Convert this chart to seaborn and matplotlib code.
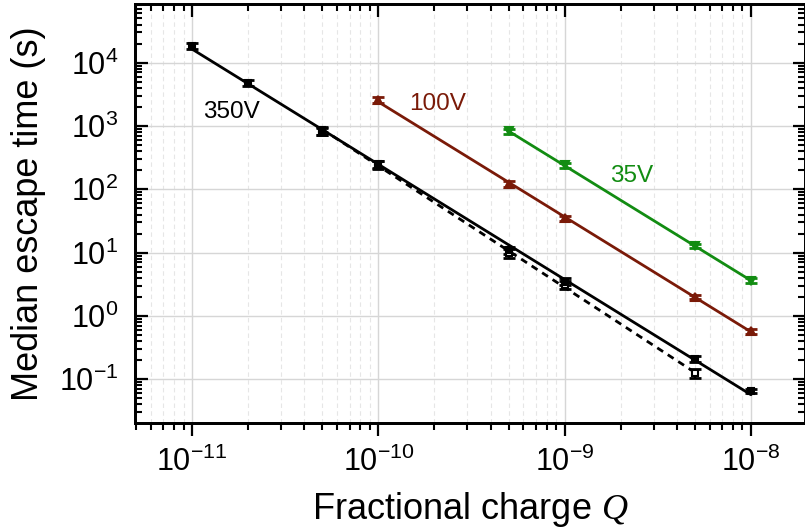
import numpy as np
import pandas as pd
import matplotlib
matplotlib.use("Agg")
import matplotlib.pyplot as plt
import seaborn as sns
from matplotlib.ticker import LogLocator, NullFormatter

# ---------------- data ----------------
q_350 = [1e-11, 2e-11, 5e-11, 1e-10, 5e-10, 1e-9, 5e-9, 1e-8]
t_350 = [1.85e4, 4.8e3, 830, 245, 11.0, 3.5, 0.21, 0.065]
rel_err_350 = [0.12, 0.10, 0.14, 0.13, 0.12, 0.13, 0.10, 0.08]

q_350b = [5e-11, 1e-10, 5e-10, 1e-9, 5e-9]
t_350b = [850, 250, 9.8, 3.1, 0.125]
rel_err_350b = [0.14, 0.13, 0.15, 0.15, 0.15]

q_100 = [1e-10, 5e-10, 1e-9, 5e-9, 1e-8]
t_100 = [2550, 122, 35, 2.0, 0.58]
rel_err_100 = [0.11, 0.10, 0.10, 0.08, 0.09]

q_35 = [5e-10, 1e-9, 5e-9, 1e-8]
t_35 = [820, 240, 12.8, 3.6]
rel_err_35 = [0.09, 0.10, 0.08, 0.09]

labels = ["350V", "100V", "35V"]
xticks = [1e-11, 1e-10, 1e-9, 1e-8]
yticks = [1e-1, 1e0, 1e1, 1e2, 1e3, 1e4]

C_BLACK = "#000000"
C_RED = "#7a1a08"
C_GREEN = "#128c12"

# ---------------- style ----------------
sns.set_theme(style="ticks")
plt.rcParams["font.family"] = ["Liberation Sans", "DejaVu Sans"]
plt.rcParams["mathtext.fontset"] = "custom"
plt.rcParams["mathtext.rm"] = "Liberation Sans"
plt.rcParams["mathtext.it"] = "Liberation Serif:italic"
for k in ("text.color", "axes.labelcolor", "xtick.color", "ytick.color", "axes.edgecolor"):
    plt.rcParams[k] = "black"

fig = plt.figure(figsize=(8.05, 5.29), dpi=100)
W, H = 805, 529
ax = fig.add_axes([135 / W, 1 - 423 / H, (805 - 135) / W, (423 - 3.5) / H])
ax.set_xscale("log")
ax.set_yscale("log")
ax.set_xlim(4.94e-12, 1.95e-8)
ax.set_ylim(0.0204, 8.6e4)


def fit_line(q, t):
    c = np.polyfit(np.log10(q), np.log10(t), 1)
    qq = np.array([min(q), max(q)])
    return pd.DataFrame({"Q": qq, "t": 10 ** np.polyval(c, np.log10(qq))})


# fit lines
sns.lineplot(data=fit_line(q_350, t_350), x="Q", y="t", ax=ax, color=C_BLACK, lw=2, zorder=3)
sns.lineplot(data=fit_line(q_350b, t_350b), x="Q", y="t", ax=ax, color=C_BLACK, lw=2,
             linestyle=(0, (2.5, 2)), zorder=3)
sns.lineplot(data=fit_line(q_100, t_100), x="Q", y="t", ax=ax, color=C_RED, lw=2, zorder=3)
sns.lineplot(data=fit_line(q_35, t_35), x="Q", y="t", ax=ax, color=C_GREEN, lw=2, zorder=3)


def errpts(q, t, rel, color, marker, ms, mfc):
    t = np.array(t)
    rel = np.array(rel)
    ax.errorbar(q, t, yerr=t * rel, fmt="none", ecolor=color, elinewidth=1.6,
                capsize=4, capthick=2, zorder=4)
    ax.plot(q, t, ls="none", marker=marker, ms=ms, mfc=mfc, mec=color, mew=1.5,
            color=color, zorder=5)


errpts(q_350b, t_350b, rel_err_350b, C_BLACK, "s", 4, "white")
errpts(q_350, t_350, rel_err_350, C_BLACK, "s", 4, C_BLACK)
errpts(q_100, t_100, rel_err_100, C_RED, "^", 5.5, C_RED)
errpts(q_35, t_35, rel_err_35, C_GREEN, "v", 5.5, C_GREEN)

# labels
ax.text(1.62e-11, 1660, labels[0], color=C_BLACK, fontsize=17.5, ha="center", va="center")
ax.text(2.07e-10, 2250, labels[1], color=C_RED, fontsize=17.5, ha="center", va="center")
ax.text(2.30e-9, 162, labels[2], color=C_GREEN, fontsize=17.5, ha="center", va="center")

# grid
ax.grid(which="major", color="#d6d6d6", lw=1.0, zorder=0)
ax.xaxis.grid(which="minor", color="#e6e6e6", ls=(0, (4, 3)), lw=0.8, zorder=0)
ax.yaxis.grid(which="minor", visible=False)
ax.set_axisbelow(True)

# ticks
ax.set_xticks(xticks)
ax.set_yticks(yticks)
ax.xaxis.set_minor_locator(LogLocator(base=10, subs=np.arange(2, 10), numticks=100))
ax.yaxis.set_minor_locator(LogLocator(base=10, subs=np.arange(2, 10), numticks=100))
ax.xaxis.set_minor_formatter(NullFormatter())
ax.yaxis.set_minor_formatter(NullFormatter())
ax.tick_params(axis="x", which="major", direction="out", length=9, width=1.6,
               labelsize=22, pad=8, top=False)
ax.tick_params(axis="x", which="minor", direction="out", length=5, width=1.5, top=False)
ax.tick_params(axis="y", which="major", direction="in", length=9, width=1.6,
               labelsize=22, pad=12, right=True, left=True)
ax.tick_params(axis="y", which="minor", direction="in", length=5, width=1.5,
               right=True, left=True)

# top axis with inward ticks
axt = ax.twiny()
axt.set_xscale("log")
axt.set_xlim(ax.get_xlim())
axt.set_xticks(xticks)
axt.xaxis.set_minor_locator(LogLocator(base=10, subs=np.arange(2, 10), numticks=100))
axt.xaxis.set_minor_formatter(NullFormatter())
axt.tick_params(axis="x", which="major", direction="in", length=9, width=1.6, labeltop=False)
axt.tick_params(axis="x", which="minor", direction="in", length=5, width=1.5)
axt.grid(False)

for a in (ax, axt):
    for s in a.spines.values():
        s.set_linewidth(2)
        s.set_color("black")

ax.set_xlabel("Fractional charge $Q$", fontsize=26, labelpad=9)
ax.set_ylabel("Median escape time (s)", fontsize=26, labelpad=9)

fig.savefig("out.png", dpi=100)
